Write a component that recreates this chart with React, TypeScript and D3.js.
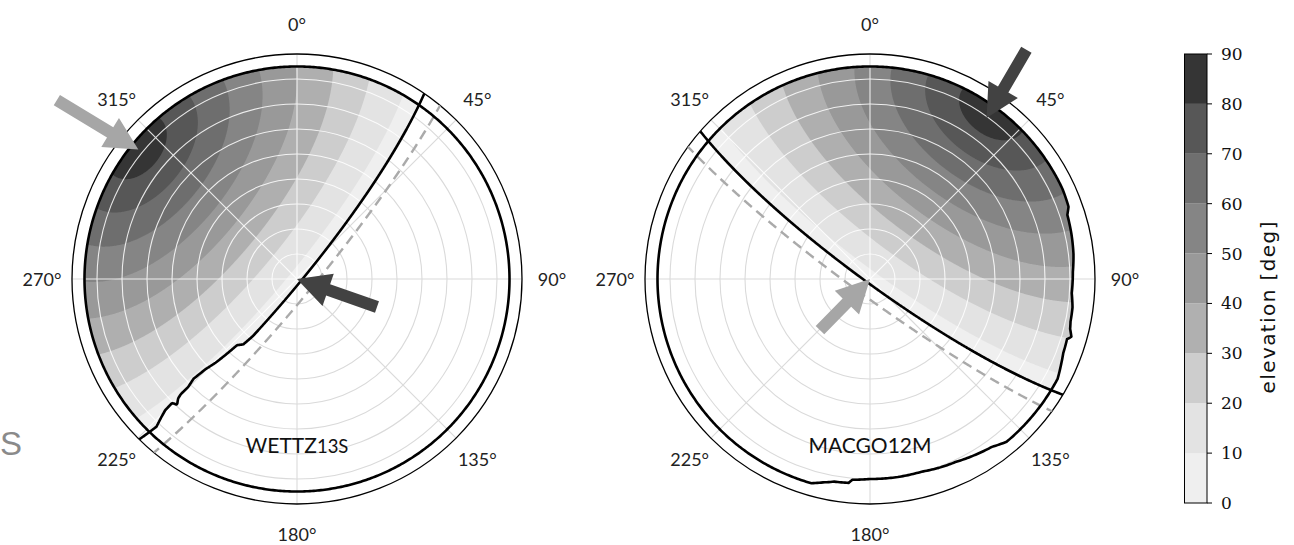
import React from 'react';
import * as d3 from 'd3';

// ---------------- data ----------------
const stationNames = ['WETTZ13S', 'MACGO12M'];
// azimuth (deg) at which the other station's zenith is seen from this station
const bearingToOtherDeg = [309.5, 36.0];
// angular separation between the two station zeniths (deg)
const separationDeg = 83.3;
// horizon masks: azimuth (deg) -> minimum elevation (deg)
const maskAzWETTZ = [0, 360];
const maskElWETTZ = [5, 5];
const maskAzMACGO = [0, 65, 70, 72, 78, 83, 88, 94, 98, 102, 104, 106, 107, 111, 114, 118, 140, 144, 150, 155, 160, 165, 172, 180, 185, 186, 190, 193, 196, 360];
const maskElMACGO = [5, 5, 5.5, 7, 7.5, 8, 8.8, 9.1, 8.2, 8, 7.5, 6.2, 7.6, 7.2, 6.3, 5, 5, 7, 8.2, 9.2, 9.6, 10.2, 10, 10, 9.4, 8, 7.7, 6.5, 5, 5];
const maskAz = [maskAzWETTZ, maskAzMACGO];
const maskEl = [maskElWETTZ, maskElMACGO];

const levels = [0, 10, 20, 30, 40, 50, 60, 70, 80, 90];
const bandColors = ['#efefef', '#e3e3e3', '#cdcdcd', '#b0b0b0', '#999999', '#858585', '#6f6f6f', '#575757', '#353535'];
const azTicks = [0, 45, 90, 135, 180, 225, 270, 315];
const zdRings = [10, 20, 30, 40, 50, 60, 70, 80];

// arrows (panel, tip az/zd, tail az/zd, shade)
const arrowPanel = [0, 0, 1, 1];
const arrowTipAz = [309.2, 0, 35.9, 0];
const arrowTipZd = [81.9, 0, 79.5, 0];
const arrowTailAz = [306.7, 109.3, 34.3, 224.4];
const arrowTailZd = [119.8, 33.9, 111, 28.6];
const arrowColor = ['#a6a6a6', '#424242', '#424242', '#a6a6a6'];

// ---------------- layout ----------------
const W = 1294, H = 545;
const panelCx = [297, 870];
const centerY = 279;
const rScale = d3.scaleLinear().domain([0, 90]).range([0, 225]);
const cbY = d3.scaleLinear().domain([0, 90]).range([503, 54]);
const cbX0 = 1184.5, cbX1 = 1207;
const HALF = 228;
const RAD = Math.PI / 180;
const SANS = 'Lato, "Open Sans", sans-serif';

function polar(i: number, az: number, zd: number): [number, number] {
  const r = rScale(zd);
  return [panelCx[i] + r * Math.sin(az * RAD), centerY - r * Math.cos(az * RAD)];
}

function buildPanel(i: number) {
  const o = 1 - i;
  const maskA = d3.scaleLinear().domain(maskAz[i]).range(maskEl[i]).clamp(true);
  const maskB = d3.scaleLinear().domain(maskAz[o]).range(maskEl[o]).clamp(true);
  const S = separationDeg * RAD;
  const P = bearingToOtherDeg[i] * RAD;
  const beta = bearingToOtherDeg[o] * RAD;
  const u = [Math.sin(S) * Math.sin(P), Math.sin(S) * Math.cos(P), Math.cos(S)];
  let t = [-Math.cos(S) * u[0], -Math.cos(S) * u[1], 1 - Math.cos(S) * u[2]];
  const tl = Math.hypot(t[0], t[1], t[2]);
  t = t.map((v) => v / tl);
  const tp = [t[1] * u[2] - t[2] * u[1], t[2] * u[0] - t[0] * u[2], t[0] * u[1] - t[1] * u[0]];
  const N = [0, 1, 2].map((k) => Math.cos(beta) * t[k] - Math.sin(beta) * tp[k]);
  const E = [0, 1, 2].map((k) => Math.sin(beta) * t[k] + Math.cos(beta) * tp[k]);

  const n = HALF * 2;
  const fill = new Float64Array(n * n);
  const edge = new Float64Array(n * n);
  const hor = new Float64Array(n * n);
  const degPerPx = 90 / rScale(90);
  for (let j = 0; j < n; j++) {
    for (let k = 0; k < n; k++) {
      const dx = k + 0.5 - HALF, dy = j + 0.5 - HALF;
      const r = Math.hypot(dx, dy);
      const zdDeg = r * degPerPx;
      const zd = zdDeg * RAD;
      const az = Math.atan2(dx, -dy);
      const sz = Math.sin(zd);
      const vx = sz * Math.sin(az), vy = sz * Math.cos(az), vz = Math.cos(zd);
      let s = vx * u[0] + vy * u[1] + vz * u[2];
      s = Math.max(-1, Math.min(1, s));
      const el = Math.asin(s) / RAD;
      let azB = Math.atan2(vx * E[0] + vy * E[1] + vz * E[2], vx * N[0] + vy * N[1] + vz * N[2]) / RAD;
      if (azB < 0) azB += 360;
      const h = el - maskB(azB);
      let azA = az / RAD;
      if (azA < 0) azA += 360;
      const vis = zdDeg <= 90 - maskA(azA) && h >= 0;
      const idx = j * n + k;
      fill[idx] = vis ? el : -100;
      edge[idx] = h;
      hor[idx] = el;
    }
  }
  const gen = d3.contours().size([n, n]);
  const path = d3.geoPath();
  const bands = levels.slice(0, -1).map((lv) => path(gen.contour(fill as any, lv) as any) || '');
  const edgePath = path(gen.contour(edge as any, 0) as any) || '';
  const horPath = path(gen.contour(hor as any, 0) as any) || '';

  const azs = d3.range(0, 360, 0.5);
  const maskLine = d3
    .lineRadial<number>()
    .angle((a) => a * RAD)
    .radius((a) => rScale(90 - maskA(a)))
    .curve(d3.curveLinearClosed)(azs) || '';
  return { bands, edgePath, horPath, maskLine };
}

function arrowPoly(x0: number, y0: number, x1: number, y1: number) {
  const shaftW = 12, headW = 34, headL = 33;
  const dx = x1 - x0, dy = y1 - y0, L = Math.hypot(dx, dy);
  const ux = dx / L, uy = dy / L, px = -uy, py = ux;
  const bx = x1 - ux * headL, by = y1 - uy * headL;
  const pts = [
    [x0 + (px * shaftW) / 2, y0 + (py * shaftW) / 2],
    [bx + (px * shaftW) / 2, by + (py * shaftW) / 2],
    [bx + (px * headW) / 2, by + (py * headW) / 2],
    [x1, y1],
    [bx - (px * headW) / 2, by - (py * headW) / 2],
    [bx - (px * shaftW) / 2, by - (py * shaftW) / 2],
    [x0 - (px * shaftW) / 2, y0 - (py * shaftW) / 2],
  ];
  return pts.map((p) => p.join(',')).join(' ');
}

export default function App() {
  const panels = React.useMemo(() => [0, 1].map(buildPanel), []);
  const R = rScale(90);
  return (
    <svg width={W} height={H} style={{ position: 'absolute', left: 0, top: 0 }}>
      <rect x={0} y={0} width={W} height={H} fill="#fff" />
      <defs>
        {panels.map((p, i) => (
          <clipPath id={`outer${i}`} key={`o${i}`}>
            <circle cx={panelCx[i]} cy={centerY} r={R} />
          </clipPath>
        ))}
        {panels.map((p, i) => (
          <clipPath id={`vis${i}`} key={`v${i}`}>
            <path d={p.bands[0]} transform={`translate(${panelCx[i] - HALF},${centerY - HALF})`} />
          </clipPath>
        ))}
      </defs>

      {panels.map((p, i) => {
        const cx = panelCx[i];
        const grid = (stroke: string, sw: number) => (
          <g stroke={stroke} strokeWidth={sw} fill="none">
            {zdRings.map((z) => (
              <circle key={z} cx={cx} cy={centerY} r={rScale(z)} />
            ))}
            {azTicks.map((a) => {
              const [x, y] = polar(i, a, 90);
              return <line key={a} x1={cx} y1={centerY} x2={x} y2={y} />;
            })}
          </g>
        );
        return (
          <g key={i}>
            {grid('#dadada', 1.1)}
            <g transform={`translate(${cx - HALF},${centerY - HALF})`}>
              {p.bands.map((d, k) => (
                <path key={k} d={d} fill={bandColors[k]} stroke="none" />
              ))}
            </g>
            <g clipPath={`url(#vis${i})`} opacity={0.85}>
              {grid('#ffffff', 1.1)}
            </g>
            <circle cx={cx} cy={centerY} r={R} fill="none" stroke="#000" strokeWidth={1.3} />
            <g clipPath={`url(#outer${i})`}>
              <g transform={`translate(${cx - HALF},${centerY - HALF})`}>
                <path d={p.horPath} fill="none" stroke="#aaaaaa" strokeWidth={2.4} strokeDasharray="10,6" />
                <path d={p.edgePath} fill="none" stroke="#000" strokeWidth={2.6} strokeLinejoin="round" />
              </g>
            </g>
            <path d={p.maskLine} transform={`translate(${cx},${centerY})`} fill="none" stroke="#000" strokeWidth={2.6} strokeLinejoin="round" />
            {azTicks.map((a) => {
              const [x, y] = polar(i, a, 102);
              return (
                <text key={a} x={x} y={y} textAnchor="middle" dominantBaseline="central" fontFamily={SANS} fontSize={18} fill="#222">
                  {`${a}°`}
                </text>
              );
            })}
            <text x={cx} y={453} textAnchor="middle" fontFamily={SANS} fontSize={21} fill="#111">
              {i === 0 ? (
                <>
                  WETTZ<tspan fontSize={18.5}>13S</tspan>
                </>
              ) : (
                stationNames[i]
              )}
            </text>
          </g>
        );
      })}

      {arrowPanel.map((pi, k) => {
        const [x1, y1] = polar(pi, arrowTipAz[k], arrowTipZd[k]);
        const [x0, y0] = polar(pi, arrowTailAz[k], arrowTailZd[k]);
        return <polygon key={k} points={arrowPoly(x0, y0, x1, y1)} fill={arrowColor[k]} stroke="none" />;
      })}

      {/* colorbar */}
      <g>
        {bandColors.map((c, k) => (
          <rect key={k} x={cbX0} y={cbY(levels[k + 1])} width={cbX1 - cbX0} height={cbY(levels[k]) - cbY(levels[k + 1])} fill={c} />
        ))}
        <rect x={cbX0} y={cbY(90)} width={cbX1 - cbX0} height={cbY(0) - cbY(90)} fill="none" stroke="#000" strokeWidth={1} />
        {levels.map((lv) => (
          <g key={lv}>
            <line x1={cbX1} x2={cbX1 + 5} y1={cbY(lv)} y2={cbY(lv)} stroke="#000" strokeWidth={1} />
            <text x={cbX1 + 14} y={cbY(lv)} dominantBaseline="central" fontFamily='"DejaVu Serif", serif' fontSize={17} fill="#111">
              {lv}
            </text>
          </g>
        ))}
        <text
          transform="translate(1268,307.5) rotate(-90)"
          textAnchor="middle"
          dominantBaseline="central"
          fontFamily='"DejaVu Sans", sans-serif'
          fontSize={20}
          fill="#111"
          textLength={172}
          lengthAdjust="spacing"
        >
          elevation [deg]
        </text>
      </g>

      <text x={0} y={455} textAnchor="start" fontFamily='"Liberation Sans", Arial, sans-serif' fontSize={33} fill="#8a8a8a">
        S
      </text>
    </svg>
  );
}
